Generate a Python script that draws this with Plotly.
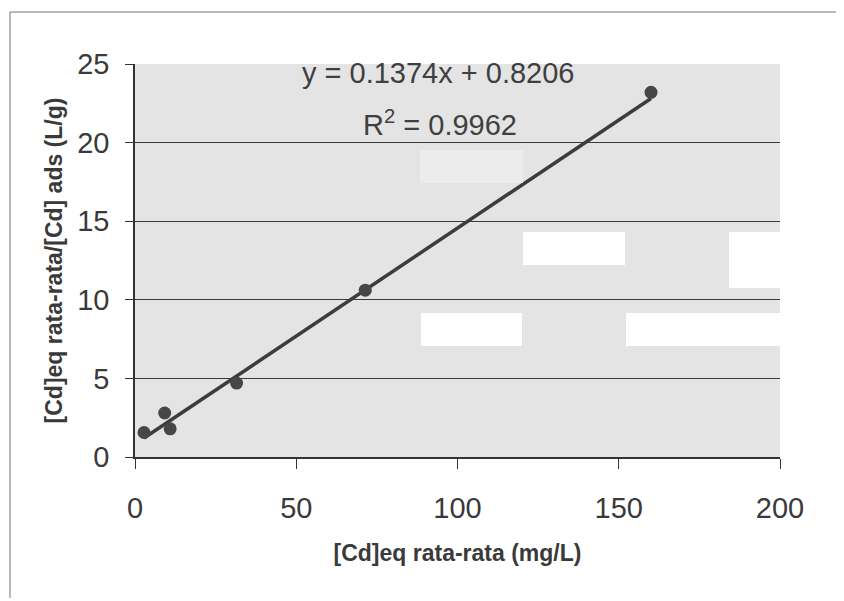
import plotly.graph_objects as go

# Data
cd_eq = [2.8, 9.2, 10.9, 31.5, 71.4, 160.0]          # [Cd]eq rata-rata (mg/L)
ratio = [1.56, 2.80, 1.79, 4.70, 10.61, 23.2]         # [Cd]eq/[Cd]ads (L/g)
slope = 0.1374
intercept = 0.8206
r_squared = 0.9962
x_ticks = [0, 50, 100, 150, 200]
y_ticks = [0, 5, 10, 15, 20, 25]

trend_x = [min(cd_eq), max(cd_eq)]
trend_y = [slope * v + intercept for v in trend_x]

fig = go.Figure()
fig.add_trace(go.Scatter(x=trend_x, y=trend_y, mode="lines",
                         line=dict(color="#3c3c3c", width=3.5),
                         showlegend=False, hoverinfo="skip"))
fig.add_trace(go.Scatter(x=cd_eq, y=ratio, mode="markers",
                         marker=dict(color="#474747", size=13),
                         showlegend=False))

tickfont = dict(family="Liberation Sans, Arial, sans-serif", size=29, color="#3a3a3a")
titlefont = dict(family="Liberation Sans, Arial, sans-serif", size=23,
                 color="#3a3a3a", weight="bold")

# page body has an 8px offset; margins chosen so the plot area lands at
# x 135..780, y 64..457 of the page
fig.update_layout(
    width=844, height=601, autosize=False,
    margin=dict(l=127, r=72, t=56, b=152),
    paper_bgcolor="white", plot_bgcolor="#e4e4e4",
    xaxis=dict(range=[0, 200], tickvals=x_ticks, ticks="outside", ticklen=10,
               tickwidth=1.3, tickcolor="#333", showline=True, linecolor="#333",
               linewidth=1.5, showgrid=False, zeroline=False, tickfont=tickfont,
               ticklabelstandoff=14,
               title=dict(text="[Cd]eq rata-rata (mg/L)", font=titlefont, standoff=22)),
    yaxis=dict(range=[0, 25], tickvals=y_ticks, ticks="outside", ticklen=8,
               tickwidth=1.3, tickcolor="#333", showline=True, linecolor="#333",
               linewidth=1.5, showgrid=True, gridcolor="#3a3a3a", gridwidth=1.3,
               zeroline=False, tickfont=tickfont, ticklabelstandoff=10,
               title=dict(text="[Cd]eq rata-rata/[Cd] ads (L/g)", font=titlefont, standoff=8)),
    font=dict(family="Liberation Sans, Arial, sans-serif"),
)

eqfont = dict(family="Liberation Sans, Arial, sans-serif", size=29, color="#3f3f3f")
fig.add_annotation(x=94, y=24.45, xref="x", yref="y",
                   text=f"y = {slope:.4f}x + {intercept:.4f}",
                   showarrow=False, font=eqfont)
fig.add_annotation(x=94.6, y=21.25, xref="x", yref="y",
                   text=f"R<sup>2</sup> = {r_squared:.4f}",
                   showarrow=False, font=eqfont)

# scan artefacts (blank patches) and chart-area border, in page pixels
W, H = 645.0, 393.0
def px(xp):
    return (xp - 135) / W
def py(yp):
    return (457 - yp) / H

patches = [
    (420, 150, 523, 183, "#ececec"),
    (523, 232, 625, 265, "white"),
    (729, 232, 780, 288, "white"),
    (421, 313, 522, 346, "white"),
    (626, 313, 780, 346, "white"),
]
for x0, y0, x1, y1, c in patches:
    fig.add_shape(type="rect", xref="paper", yref="paper",
                  x0=px(x0), x1=px(x1), y0=py(y1), y1=py(y0),
                  fillcolor=c, line=dict(width=0), layer="above")

fig.add_shape(type="line", xref="paper", yref="paper",
              x0=px(10), x1=px(10), y0=py(598), y1=py(12),
              line=dict(color="#777", width=1))
fig.add_shape(type="line", xref="paper", yref="paper",
              x0=px(10), x1=px(844), y0=py(12), y1=py(12),
              line=dict(color="#777", width=1))

fig.write_html("out.html")
